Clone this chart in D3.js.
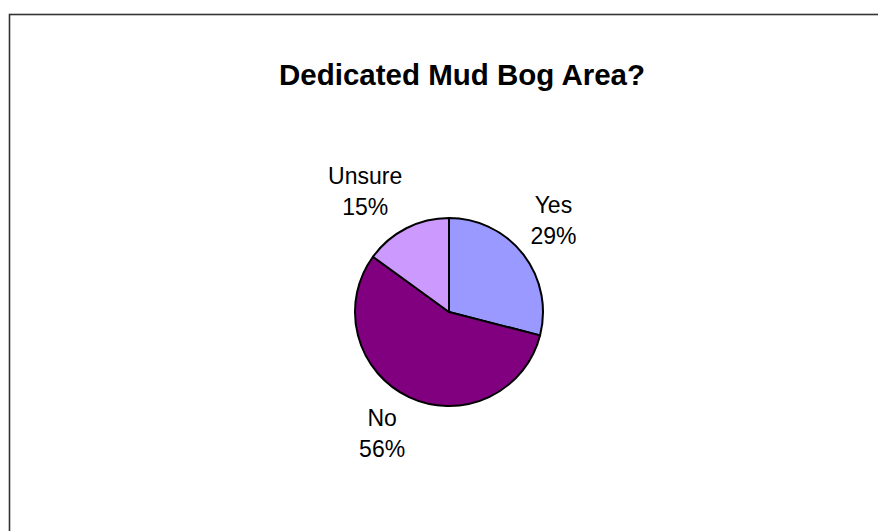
<!DOCTYPE html>
<html><head><meta charset="utf-8">
<script src="https://cdn.jsdelivr.net/npm/d3@7"></script>
<style>html,body{margin:0;padding:0;background:#fff;}svg{display:block;}</style>
</head><body>
<svg id="chart" width="878" height="531"></svg>
<script>
const categories = ["Yes", "No", "Unsure"];
const values = [29, 56, 15];
const colors = ["#9999FF", "#800080", "#CC99FF"];
const title = "Dedicated Mud Bog Area?";

const svg = d3.select("#chart");
const W = 878, H = 531;
const cx = 449, cy = 312, R = 94;
const FONT = "Liberation Sans, Arial, sans-serif";

svg.append("rect").attr("x", 9.5).attr("y", 14.5).attr("width", W).attr("height", H)
  .attr("fill", "#fff").attr("stroke", "#333").attr("stroke-width", 1.6);

svg.append("text").attr("x", 462).attr("y", 85).attr("text-anchor", "middle")
  .attr("font-family", FONT).attr("font-weight", "bold")
  .attr("font-size", 29.5).attr("fill", "#000").text(title);

const pie = d3.pie().sort(null).value(d => d)(values);
const arc = d3.arc().innerRadius(0).outerRadius(R);
const g = svg.append("g").attr("transform", `translate(${cx},${cy})`);
g.selectAll("path").data(pie).join("path")
  .attr("d", arc).attr("fill", (d, i) => colors[i])
  .attr("stroke", "#000").attr("stroke-width", 2).attr("stroke-linejoin", "round");

const total = d3.sum(values);
const pad = 9;
const lg = g.selectAll("g.lbl").data(pie).join("g").attr("class", "lbl");
lg.append("text").attr("text-anchor", "middle").attr("y", 0)
  .attr("font-family", FONT).attr("font-size", 23).attr("fill", "#000")
  .text((d, i) => categories[i]);
lg.append("text").attr("text-anchor", "middle").attr("y", 31)
  .attr("font-family", FONT).attr("font-size", 23).attr("fill", "#000")
  .text(d => Math.round(d.data / total * 100) + "%");
lg.each(function(d) {
  const a = (d.startAngle + d.endAngle) / 2;
  const px = (R + pad) * Math.sin(a), py = -(R + pad) * Math.cos(a);
  const sx = Math.sin(a) >= 0 ? 1 : -1, sy = -Math.cos(a) >= 0 ? 1 : -1;
  const b = this.getBBox();
  const ccx = px + sx * b.width / 2, ccy = py + sy * b.height / 2;
  const tx = ccx - (b.x + b.width / 2), ty = ccy - (b.y + b.height / 2);
  d3.select(this).attr("transform", `translate(${tx},${ty})`);
});
</script>
</body></html>
